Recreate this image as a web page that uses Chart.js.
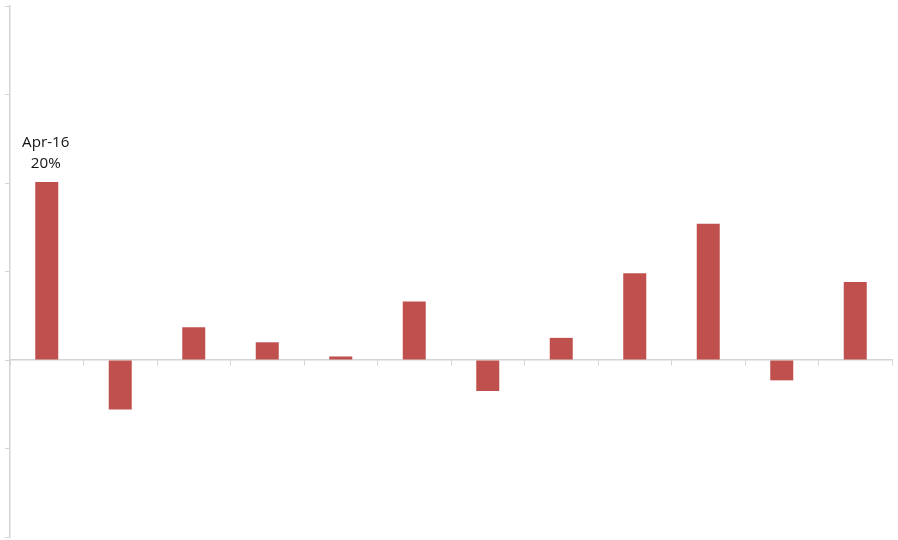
<!DOCTYPE html>
<html>
<head>
<meta charset="utf-8">
<script src="https://cdn.jsdelivr.net/npm/chart.js@4.4.0/dist/chart.umd.min.js"></script>
<style>
  html, body { margin: 0; padding: 0; background: #ffffff; }
  #wrap { width: 898px; height: 540px; position: relative; }
</style>
</head>
<body>
<div id="wrap"><canvas id="c"></canvas></div>
<script>
const categories = ['Apr-16','May-16','Jun-16','Jul-16','Aug-16','Sep-16','Oct-16','Nov-16','Dec-16','Jan-17','Feb-17','Mar-17'];
const values = [20.1, -5.6, 3.7, 2.0, 0.4, 6.6, -3.5, 2.5, 9.8, 15.4, -2.3, 8.8];
const labelledIndex = 0;
const labelledValueText = '20%';
const yMin = -20, yMax = 40, yStep = 10;

const labelPlugin = {
  id: 'firstBarLabel',
  afterDatasetsDraw(chart) {
    const meta = chart.getDatasetMeta(0);
    const bar = meta.data[labelledIndex];
    if (!bar) return;
    const ctx = chart.ctx;
    ctx.save();
    ctx.fillStyle = '#141414';
    ctx.font = '15.2px "Open Sans", sans-serif';
    ctx.textAlign = 'center';
    ctx.textBaseline = 'alphabetic';
    ctx.fillText(categories[labelledIndex], bar.x - 1, bar.y - 35.5);
    ctx.fillText(labelledValueText, bar.x - 1, bar.y - 14);
    ctx.restore();
  }
};

new Chart(document.getElementById('c'), {
  type: 'bar',
  data: {
    labels: categories,
    datasets: [{
      data: values,
      backgroundColor: '#C0504D',
      borderWidth: 0,
      categoryPercentage: 1,
      barPercentage: 0.313
    }]
  },
  options: {
    responsive: true,
    maintainAspectRatio: false,
    animation: false,
    layout: { padding: { left: 5, right: 6, top: 6, bottom: 3 } },
    plugins: { legend: { display: false }, tooltip: { enabled: false } },
    scales: {
      x: {
        position: { y: 0 },
        offset: true,
        grid: { offset: true, drawOnChartArea: false, drawTicks: true, tickLength: 5, color: '#d4d4d4', lineWidth: 1 },
        border: { color: '#d4d4d4', width: 1.5 },
        ticks: { display: false }
      },
      y: {
        min: yMin, max: yMax,
        ticks: { display: false, stepSize: yStep },
        grid: { drawOnChartArea: false, drawTicks: true, tickLength: 5, color: '#d4d4d4', lineWidth: 1 },
        border: { color: '#d4d4d4', width: 1.5 }
      }
    }
  },
  plugins: [labelPlugin]
});
</script>
</body>
</html>
